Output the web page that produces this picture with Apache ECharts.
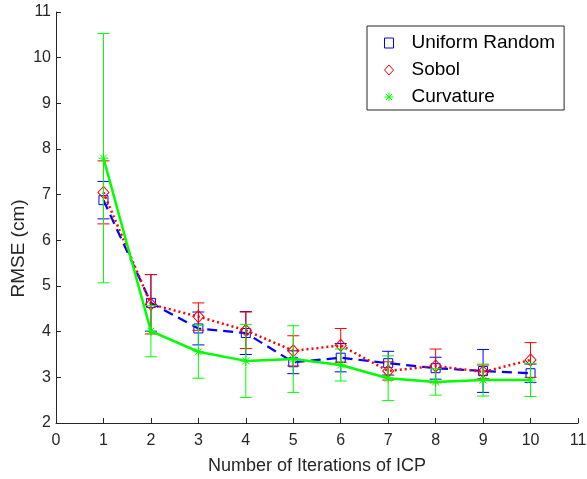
<!DOCTYPE html>
<html>
<head>
<meta charset="utf-8">
<script src="https://cdn.jsdelivr.net/npm/echarts@6/dist/echarts.min.js"></script>
<style>
html,body{margin:0;padding:0;background:#fff;}
#chart{width:587px;height:479px;}
</style>
</head>
<body>
<div id="chart"></div>
<script>
var iterations = [1, 2, 3, 4, 5, 6, 7, 8, 9, 10];
var uniformMean = [6.88, 4.63, 4.07, 3.97, 3.33, 3.43, 3.31, 3.20, 3.14, 3.09];
var uniformErr  = [0.41, 0.62, 0.36, 0.47, 0.25, 0.31, 0.26, 0.24, 0.47, 0.20];
var sobolMean   = [7.05, 4.60, 4.33, 4.03, 3.58, 3.70, 3.14, 3.25, 3.12, 3.38];
var sobolErr    = [0.69, 0.65, 0.30, 0.40, 0.33, 0.37, 0.20, 0.37, 0.15, 0.38];
var curvMean    = [7.80, 4.01, 3.56, 3.36, 3.40, 3.27, 2.98, 2.90, 2.94, 2.94];
var curvErr     = [2.73, 0.56, 0.58, 0.80, 0.73, 0.35, 0.49, 0.29, 0.35, 0.36];
var seriesNames = ['Uniform Random', 'Sobol', 'Curvature'];
var xLabel = 'Number of Iterations of ICP';
var yLabel = 'RMSE (cm)';

var BLUE = '#0000ff', RED = '#ff0000', GREEN = '#00ff00', AX = '#262626';
var STAR = 'path://M0,-10L0,10M-10,0L10,0M-7,-7L7,7M-7,7L7,-7';

function pts(m) { return iterations.map(function (x, i) { return [x, m[i]]; }); }
function errData(m, e) { return iterations.map(function (x, i) { return [x, m[i], e[i]]; }); }
function errSeries(m, e, color, z) {
  return {
    type: 'custom', z: z, silent: true,
    data: errData(m, e),
    renderItem: function (params, api) {
      var x = api.value(0), y = api.value(1), d = api.value(2);
      var top = api.coord([x, y + d]);
      var bot = api.coord([x, y - d]);
      var hw = 6;
      var st = { stroke: color, lineWidth: 1, fill: null };
      return {
        type: 'group',
        children: [
          { type: 'line', shape: { x1: top[0], y1: top[1], x2: bot[0], y2: bot[1] }, style: st },
          { type: 'line', shape: { x1: top[0] - hw, y1: top[1], x2: top[0] + hw, y2: top[1] }, style: st },
          { type: 'line', shape: { x1: bot[0] - hw, y1: bot[1], x2: bot[0] + hw, y2: bot[1] }, style: st }
        ]
      };
    }
  };
}

var chart = echarts.init(document.getElementById('chart'), null, { renderer: 'canvas' });
chart.setOption({
  animation: false,
  backgroundColor: '#fff',
  grid: { left: 56, right: 9, top: 12, bottom: 56, containLabel: false, outerBoundsMode: 'none' },
  xAxis: {
    type: 'value', min: 0, max: 11, interval: 1,
    name: xLabel, nameLocation: 'middle', nameGap: 34, nameMoveOverlap: false,
    nameTextStyle: { color: AX, fontSize: 18, fontFamily: 'Liberation Sans' },
    axisLine: { show: true, onZero: false, lineStyle: { color: AX, width: 1 } },
    axisTick: { show: true, inside: true, length: 5, lineStyle: { color: AX } },
    axisLabel: { color: AX, fontSize: 16, fontFamily: 'Liberation Sans', margin: 10 },
    splitLine: { show: false }
  },
  yAxis: {
    type: 'value', min: 2, max: 11, interval: 1,
    name: yLabel, nameLocation: 'middle', nameGap: 28, nameRotate: 90, nameMoveOverlap: false,
    nameTextStyle: { color: AX, fontSize: 19, fontFamily: 'Liberation Sans', padding: [0, 62, 0, 0] },
    axisLine: { show: true, onZero: false, lineStyle: { color: AX, width: 1 } },
    axisTick: { show: true, inside: true, length: 5, lineStyle: { color: AX } },
    axisLabel: { color: AX, fontSize: 16, fontFamily: 'Liberation Sans', margin: 5 },
    splitLine: { show: false }
  },
  legend: {
    left: 367, top: 26, orient: 'vertical',
    backgroundColor: '#fff', borderColor: AX, borderWidth: 1,
    padding: [6, 9, 2, 15], itemGap: 5,
    itemWidth: 9, itemHeight: 10,
    textStyle: { color: '#000', fontSize: 19, fontFamily: 'Liberation Sans', lineHeight: 22, padding: [0, 0, 0, 13] },
    data: [
      { name: seriesNames[0], icon: 'rect', itemStyle: { color: 'none', borderColor: BLUE, borderWidth: 1 } },
      { name: seriesNames[1], icon: 'diamond', itemStyle: { color: 'none', borderColor: RED, borderWidth: 1 } },
      { name: seriesNames[2], icon: STAR, itemStyle: { color: 'none', borderColor: GREEN, borderWidth: 1 } }
    ]
  },
  series: [
    errSeries(uniformMean, uniformErr, BLUE, 2),
    {
      name: seriesNames[0], type: 'line', z: 3, data: pts(uniformMean),
      symbol: 'rect', symbolSize: 9,
      itemStyle: { color: 'none', borderColor: BLUE, borderWidth: 1 },
      lineStyle: { color: BLUE, width: 2.2, type: [10, 6] }
    },
    errSeries(sobolMean, sobolErr, RED, 4),
    {
      name: seriesNames[1], type: 'line', z: 5, data: pts(sobolMean),
      symbol: 'diamond', symbolSize: [11, 12],
      itemStyle: { color: 'none', borderColor: RED, borderWidth: 1 },
      lineStyle: { color: RED, width: 2.5, type: [2, 3] }
    },
    errSeries(curvMean, curvErr, GREEN, 6),
    {
      name: seriesNames[2], type: 'line', z: 7, data: pts(curvMean),
      symbol: STAR, symbolSize: 10,
      itemStyle: { color: 'none', borderColor: GREEN, borderWidth: 1 },
      lineStyle: { color: GREEN, width: 2.5 }
    }
  ]
});
</script>
</body>
</html>
